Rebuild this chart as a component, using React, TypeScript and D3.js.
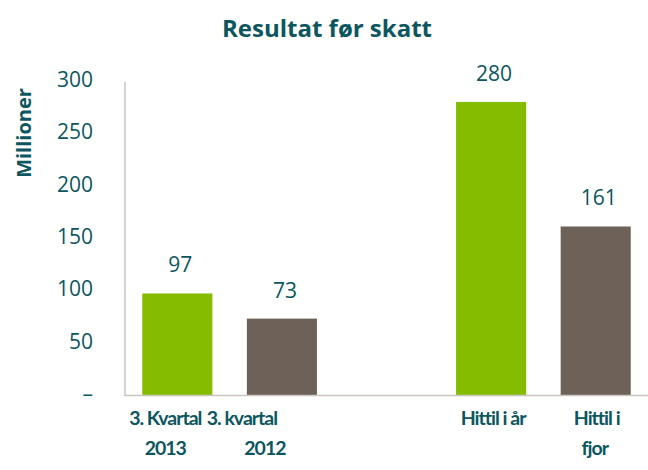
import React from "react";
import * as d3 from "d3";

const categories = ["3. Kvartal 2013", "3. kvartal 2012", "", "Hittil i år", "Hittil i fjor"];
const values: (number | null)[] = [97, 73, null, 280, 161];
const barColors = ["#86bc00", "#6e6158", "none", "#86bc00", "#6e6158"];
const labelLines = [["3. Kvartal", "2013"], ["3. kvartal", "2012"], [], ["Hittil i år"], ["Hittil i", "fjor"]];
const labelShift = [[-12, -12], [-40, -17], [], [2], [1, -1]];
const yTicks = [0, 50, 100, 150, 200, 250, 300];
const title = "Resultat før skatt";
const yTitle = "Millioner";

const W = 648, H = 470;
const TEXT = "#0c5660";
const FONT = "'Open Sans', 'DejaVu Sans', sans-serif";
const NARROW = "Lato, 'Open Sans', sans-serif";

export default function App() {
  const x = d3.scaleBand<string>().domain(categories.map((c, i) => i + "")).range([125, 648]).paddingInner(0.33).paddingOuter(0.165);
  const y = d3.scaleLinear().domain([0, 300]).range([395, 81]);
  return (
    <svg width={W} height={H} style={{ position: "absolute", left: 0, top: 0, fontFamily: FONT }}>
      <rect width={W} height={H} fill="#fff" />
      <text x={327} y={37} textAnchor="middle" fontSize={24} fontWeight="bold" fill={TEXT}>{title}</text>
      <text transform={`translate(31,133) rotate(-90)`} textAnchor="middle" fontSize={20} fontWeight="bold" fill={TEXT}>{yTitle}</text>
      {yTicks.map(t => (
        <text key={t} x={93} y={y(t) + 6} textAnchor="end" fontSize={21} fill={TEXT}>{t === 0 ? "–" : t}</text>
      ))}
      {values.map((v, i) => v == null ? null : (
        <g key={i}>
          <rect x={x(i + "")} y={y(v)} width={x.bandwidth()} height={y(0) - y(v)} fill={barColors[i]} />
          <text x={(x(i + "") as number) + x.bandwidth() / 2 + 3} y={y(v) - 21} textAnchor="middle" fontSize={21} fill={TEXT}>{v}</text>
        </g>
      ))}
      <line x1={125} x2={125} y1={82} y2={395.5} stroke="#c9c5c1" strokeWidth={1.5} />
      <line x1={124} x2={648} y1={395.5} y2={395.5} stroke="#c9c5c1" strokeWidth={1.5} />
      {labelLines.map((lines, i) => lines.map((ln, j) => (
        <text key={i + "-" + j} x={(x(i + "") as number) + x.bandwidth() / 2 + labelShift[i][j]} y={425 + j * 30} textAnchor="middle" fontSize={19.5} fontWeight="bold" letterSpacing={-1} fontFamily={NARROW} fill={TEXT}>{ln}</text>
      )))}
    </svg>
  );
}
